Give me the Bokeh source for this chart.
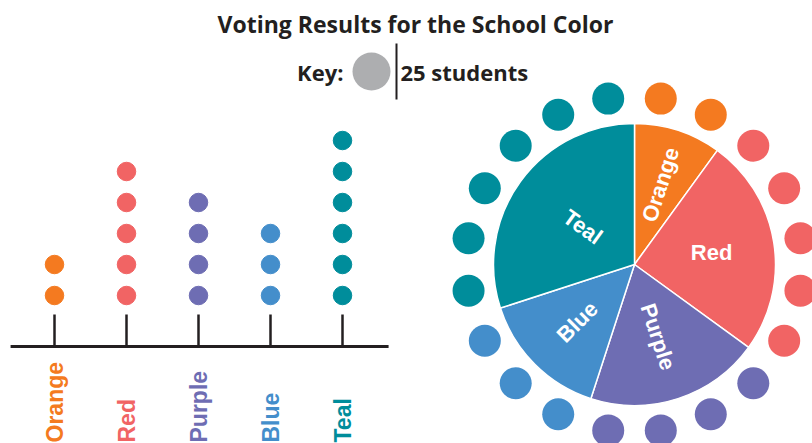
import math
import numpy as np
from bokeh.plotting import figure
from bokeh.models import Range1d, ColumnDataSource
from bokeh.core.properties import value
from bokeh.embed import file_html
from bokeh.resources import INLINE

# ---------------- data ----------------
categories = ["Orange", "Red", "Purple", "Blue", "Teal"]
dot_counts = [2, 5, 4, 3, 6]          # one dot = 25 students
students_per_dot = 25
colors = ["#F47A20", "#F16464", "#6E6DB3", "#448ECB", "#008D9B"]
title_text = "Voting Results for the School Color"
key_label = "Key:"
key_unit = "students"
key_color = "#ADAEB0"

# ---------------- layout / style constants ----------------
W, H = 812, 443
INK = "#231F20"


def up(py):
    """convert a top-down pixel row to the figure's y-up coordinate"""
    return H - py


p = figure(width=W, height=H, x_range=Range1d(0, W), y_range=Range1d(0, H),
           output_backend="svg", toolbar_location=None, min_border=0,
           x_axis_location=None, y_axis_location=None)
p.outline_line_color = None
p.grid.visible = False
p.background_fill_color = "white"
p.border_fill_color = "white"

# ---------------- title & key ----------------
p.text(x=[415], y=[up(23)], text=[title_text], text_align="center",
       text_baseline="middle", text_font=value("Open Sans"),
       text_font_size="23px", text_font_style="bold", text_color=INK)
p.text(x=[343], y=[up(71)], text=[key_label], text_align="right",
       text_baseline="middle", text_font=value("Open Sans"),
       text_font_size="22px", text_font_style="bold", text_color=INK)
p.circle(x=[371], y=[up(71)], radius=19, fill_color=key_color, line_color=None)
p.segment(x0=[396], x1=[396], y0=[up(43)], y1=[up(99)], line_color=INK, line_width=2)
p.text(x=[400], y=[up(71)], text=[f"{students_per_dot} {key_unit}"], text_align="left",
       text_baseline="middle", text_font=value("Open Sans"),
       text_font_size="22px", text_font_style="bold", text_color=INK)

# ---------------- dot plot (category index / level scales) ----------------
STEP, X0 = 72, 54          # px between categories, px of first category
DSTEP, D1 = 31, 295        # px between dot levels, px row of first level
p.extra_x_ranges = {"cat": Range1d(-X0 / STEP, (W - X0) / STEP)}
p.extra_y_ranges = {"lvl": Range1d(1 - (H - D1) / DSTEP, 1 + D1 / DSTEP)}

idx = list(range(len(categories)))
dx, dy, dc = [], [], []
for i, (n, c) in enumerate(zip(dot_counts, colors)):
    for j in range(n):
        dx.append(i)
        dy.append(j + 1)
        dc.append(c)
p.scatter(x=dx, y=dy, color=dc, size=18.5, x_range_name="cat", y_range_name="lvl")

AXIS_PY, TICK_PY = 346, 314
p.segment(x0=[-0.61], x1=[len(categories) - 1 + 0.64], y0=[up(AXIS_PY)], y1=[up(AXIS_PY)],
          x_range_name="cat", line_color=INK, line_width=3)
p.segment(x0=idx, x1=idx, y0=[up(AXIS_PY)] * len(idx), y1=[up(TICK_PY)] * len(idx),
          x_range_name="cat", line_color=INK, line_width=2.5)
p.text(x=idx, y=[up(442)] * len(idx), text=categories, angle=math.pi / 2,
       text_align="left", text_baseline="middle", text_color=colors,
       text_font=value("Liberation Sans"), text_font_size="23px",
       text_font_style="bold", x_range_name="cat")

# ---------------- pie with ring of dots ----------------
CX, CY, R = 634, up(264), 141
RING, DOT_R = 168, 16
total = sum(dot_counts)
cum = np.cumsum([0] + dot_counts)
th1 = cum[:-1] / total * 360.0   # clockwise from 12 o'clock, degrees
th2 = cum[1:] / total * 360.0
src = ColumnDataSource(dict(
    start=np.radians(90 - th1), end=np.radians(90 - th2), color=colors))
p.wedge(x=CX, y=CY, radius=R, start_angle="start", end_angle="end",
        direction="clock", fill_color="color", line_color="white",
        line_width=1.5, source=src)

rx, ry, rc = [], [], []
k = 0
for n, c in zip(dot_counts, colors):
    for _ in range(n):
        a = math.radians((k + 0.5) * 360.0 / total)
        rx.append(CX + RING * math.sin(a))
        ry.append(CY + RING * math.cos(a))
        rc.append(c)
        k += 1
p.circle(x=rx, y=ry, radius=DOT_R, fill_color=rc, line_color=None)

label_r = [84, 78, 76, 81, 64]
lx, ly, la = [], [], []
for t1, t2, r in zip(th1, th2, label_r):
    mid = (t1 + t2) / 2
    a = math.radians(mid)
    lx.append(CX + r * math.sin(a))
    ly.append(CY + r * math.cos(a))
    ang = (90 - mid + 180) % 360 - 180
    if ang > 90:
        ang -= 180
    elif ang < -90:
        ang += 180
    if abs(ang) < 15:
        ang = 0
    la.append(math.radians(ang))
p.text(x=lx, y=ly, text=categories, angle=la, text_align="center",
       text_baseline="middle", text_color="white",
       text_font=value("Liberation Sans"), text_font_size="22px",
       text_font_style="bold")

open("out.html", "w").write(file_html(p, INLINE))
